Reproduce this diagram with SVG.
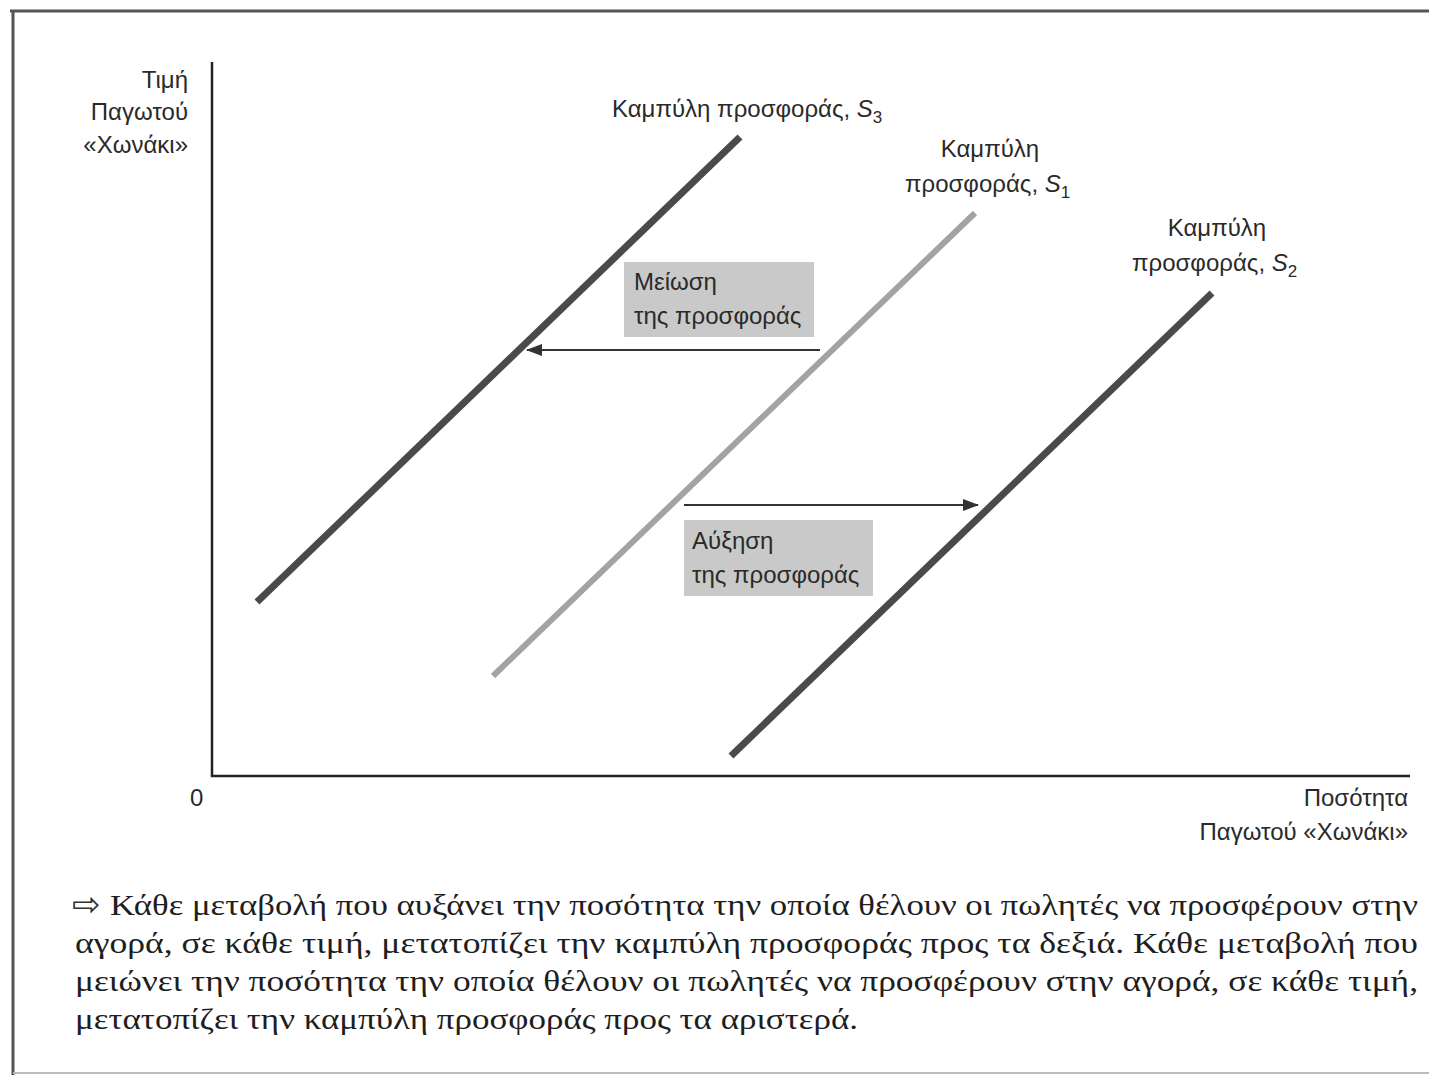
<svg xmlns="http://www.w3.org/2000/svg" width="1429" height="1075" viewBox="0 0 1429 1075">
<defs>
<style>
.lbl{font-family:"Liberation Sans",Arial,sans-serif;font-size:24px;fill:#2a2a2a}
.cap{font-family:"Liberation Serif","Times New Roman",serif;font-size:30px;fill:#1e1e1e}
.axis{stroke:#222;stroke-width:2.5;fill:none}
.dark{stroke:#4a4a4a;stroke-width:7;stroke-linecap:butt}
.light{stroke:#a3a3a3;stroke-width:6;stroke-linecap:butt}
.arr{stroke:#333;stroke-width:2;fill:none}
.box{fill:#c9c9c9}
</style>
<marker id="ah" viewBox="0 0 16 12" refX="15" refY="6" markerWidth="16" markerHeight="12" markerUnits="userSpaceOnUse" orient="auto">
<path d="M0,0 L16,6 L0,12 Z" fill="#333"/>
</marker>
</defs>
<rect width="1429" height="1075" fill="#ffffff"/>
<g id="frame">
<line x1="10" y1="11" x2="1429" y2="11" stroke="#555" stroke-width="3"/>
<line x1="13" y1="10" x2="13" y2="1075" stroke="#555" stroke-width="3"/>
<line x1="13" y1="1073" x2="1429" y2="1073" stroke="#bbb" stroke-width="2"/>
</g>
<g id="axes">
<polyline class="axis" points="212,62 212,776 1410,776"/>
<text class="lbl" x="188" y="88" text-anchor="end">Τιμή</text>
<text class="lbl" x="188" y="120" text-anchor="end">Παγωτού</text>
<text class="lbl" x="188" y="153" text-anchor="end">«Χωνάκι»</text>
<text class="lbl" x="190" y="806">0</text>
<text class="lbl" x="1408" y="806" text-anchor="end">Ποσότητα</text>
<text class="lbl" x="1408" y="840" text-anchor="end">Παγωτού «Χωνάκι»</text>
</g>
<g id="S3">
<line class="dark" x1="257" y1="602" x2="740" y2="137"/>
<text class="lbl" x="612" y="117">Καμπύλη προσφοράς, <tspan font-style="italic">S</tspan><tspan font-size="17" dy="6">3</tspan></text>
</g>
<g id="S1">
<line class="light" x1="493" y1="676" x2="975" y2="213"/>
<text class="lbl" x="990" y="157" text-anchor="middle">Καμπύλη</text>
<text class="lbl" x="905" y="192">προσφοράς, <tspan font-style="italic">S</tspan><tspan font-size="17" dy="6">1</tspan></text>
</g>
<g id="S2">
<line class="dark" x1="731" y1="756" x2="1212" y2="293"/>
<text class="lbl" x="1217" y="236" text-anchor="middle">Καμπύλη</text>
<text class="lbl" x="1132" y="271">προσφοράς, <tspan font-style="italic">S</tspan><tspan font-size="17" dy="6">2</tspan></text>
</g>
<g id="decrease">
<rect class="box" x="624" y="262" width="190" height="75"/>
<text class="lbl" x="634" y="290">Μείωση</text>
<text class="lbl" x="634" y="324">της προσφοράς</text>
</g>
<g id="increase">
<rect class="box" x="684" y="520" width="189" height="76"/>
<text class="lbl" x="692" y="549">Αύξηση</text>
<text class="lbl" x="692" y="583">της προσφοράς</text>
</g>
<g id="connectors">
<line class="arr" x1="820" y1="350" x2="527" y2="350" marker-end="url(#ah)"/>
<line class="arr" x1="684" y1="505" x2="978" y2="505" marker-end="url(#ah)"/>
</g>
<g id="caption">
<text x="72" y="916" font-family="DejaVu Sans, sans-serif" font-size="34" fill="#333">⇨</text>
<text class="cap" x="110" y="915" textLength="1308" lengthAdjust="spacingAndGlyphs">Κάθε μεταβολή που αυξάνει την ποσότητα την οποία θέλουν οι πωλητές να προσφέρουν στην</text>
<text class="cap" x="75" y="953" textLength="1343" lengthAdjust="spacingAndGlyphs">αγορά, σε κάθε τιμή, μετατοπίζει την καμπύλη προσφοράς προς τα δεξιά. Κάθε μεταβολή που</text>
<text class="cap" x="75" y="991" textLength="1343" lengthAdjust="spacingAndGlyphs">μειώνει την ποσότητα την οποία θέλουν οι πωλητές να προσφέρουν στην αγορά, σε κάθε τιμή,</text>
<text class="cap" x="75" y="1029" textLength="783" lengthAdjust="spacingAndGlyphs">μετατοπίζει την καμπύλη προσφοράς προς τα αριστερά.</text>
</g>
</svg>
